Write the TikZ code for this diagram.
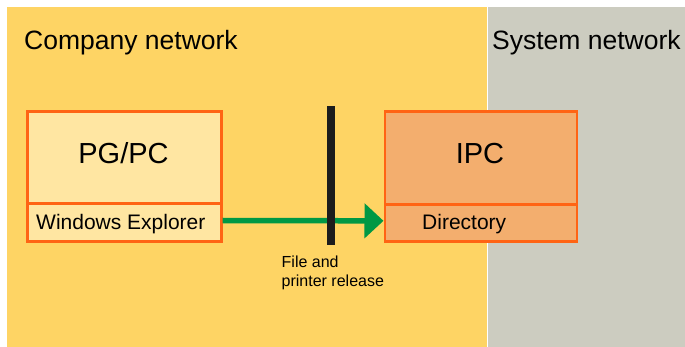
\documentclass[tikz,border=0pt]{standalone}
\usepackage{fontspec}
\setmainfont{Liberation Sans}
\usetikzlibrary{arrows.meta}
\definecolor{zoneyellow}{RGB}{254,212,100}
\definecolor{zonegray}{RGB}{204,204,192}
\definecolor{boxorange}{RGB}{255,100,20}
\definecolor{pcfill}{RGB}{255,230,162}
\definecolor{ipcfill}{RGB}{243,174,110}
\definecolor{arrowgreen}{RGB}{0,152,68}
\definecolor{barblack}{RGB}{28,28,28}
\tikzset{
  zone/.style={draw=none, inner sep=0pt, anchor=north west},
  devbox/.style={draw=boxorange, line width=2.6pt, inner sep=0pt, anchor=north west},
  bigtext/.style={font=\fontsize{26.5}{30}\selectfont, anchor=base west, inner sep=0pt},
  devtext/.style={font=\fontsize{29}{33}\selectfont, anchor=base, inner sep=0pt},
  subtext/.style={font=\fontsize{21}{24}\selectfont, anchor=base west, inner sep=0pt},
  smalltext/.style={font=\fontsize{16}{19}\selectfont, align=left, anchor=north west, inner sep=0pt},
  flow/.style={draw=arrowgreen, line width=5.5pt, -{Triangle[length=19pt,width=34pt]}},
}
\begin{document}
\begin{tikzpicture}[x=1pt,y=-1pt]
\useasboundingbox (0,0) rectangle (685,347);
\fill[white] (0,0) rectangle (685,347);
% zones
\node[zone, fill=zoneyellow, minimum width=480pt, minimum height=340pt] (company) at (7,7) {};
\node[zone, fill=zonegray, minimum width=197pt, minimum height=340pt] (system) at (488,7) {};
\node[bigtext] (companylbl) at (24,50) {Company network};
\node[bigtext] (systemlbl) at (492,50) {System network};
% PG/PC
\node[devbox, fill=pcfill, minimum width=194pt, minimum height=92pt] (pgtop) at (26,110) {};
\node[devbox, fill=pcfill, minimum width=194pt, minimum height=38pt] (pgbot) at (26,202) {};
\node[devtext] (pglbl) at (123.5,164) {PG/PC};
\node[subtext] (explorer) at (36,230) {Windows Explorer};
% IPC
\node[devbox, fill=ipcfill, minimum width=192pt, minimum height=93.5pt] (ipctop) at (383.5,110) {};
\node[devbox, fill=ipcfill, minimum width=192pt, minimum height=36.5pt] (ipcbot) at (383.5,203.5) {};
\node[devtext] (ipclbl) at (480,164) {IPC};
\node[subtext] (directory) at (422,230) {Directory};
% arrow and barrier
\draw[flow] ([yshift=1.8pt]pgbot.east) -- ([yshift=2.2pt]ipcbot.west);
\node[zone, fill=barblack, minimum width=8pt, minimum height=139pt] (barrier) at (327,106) {};
\node[smalltext] (release) at (281.5,256) {File and\\printer release};
\end{tikzpicture}
\end{document}
